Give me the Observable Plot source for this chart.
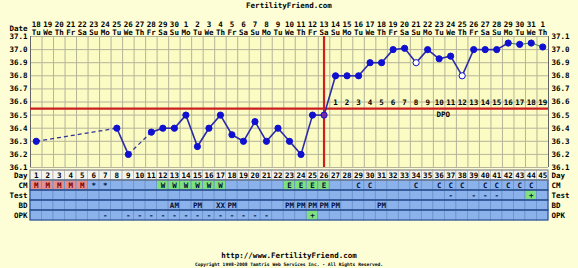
<!DOCTYPE html>
<html><head><meta charset="utf-8">
<script src="https://cdn.jsdelivr.net/npm/d3@7"></script>
<script src="https://cdn.jsdelivr.net/npm/@observablehq/plot@0.6"></script>
<style>
body{margin:0;background:#fdfdd6;}
#wrap{position:relative;width:578px;height:268px;overflow:hidden;font-family:"DejaVu Sans Mono",monospace;font-weight:bold;}
.t{position:absolute;left:0;width:578px;text-align:center;color:#000;white-space:nowrap;}
#title{top:1px;font-size:7.5px;}
#url{top:251px;font-size:7.5px;}
#copy{top:262px;font-size:4.6px;}
#main{position:absolute;top:0;left:0;z-index:2}
#table{position:absolute;top:168px;left:0;z-index:1}
svg{display:block;overflow:visible}
</style></head><body>
<div id="wrap">
  <div id="main"></div>
  <div id="table"></div>
  <div class="t" id="title">FertilityFriend.com</div>
  <div class="t" id="url">http://www.FertilityFriend.com</div>
  <div class="t" id="copy">Copyright 1998-2008 Tamtris Web Services Inc. - All Rights Reserved.</div>
</div>
<script>
// ---------- data ----------
const days = [1,2,3,4,5,6,7,8,9,10,11,12,13,14,15,16,17,18,19,20,21,22,23,24,25,26,27,28,29,30,31,32,33,34,35,36,37,38,39,40,41,42,43,44,45];
const dates = [18,19,20,21,22,23,24,25,26,27,28,29,30,1,2,3,4,5,6,7,8,9,10,11,12,13,14,15,16,17,18,19,20,21,22,23,24,25,26,27,28,29,30,31,1];
const weekdays = ["Tu","We","Th","Fr","Sa","Su","Mo","Tu","We","Th","Fr","Sa","Su","Mo","Tu","We","Th","Fr","Sa","Su","Mo","Tu","We","Th","Fr","Sa","Su","Mo","Tu","We","Th","Fr","Sa","Su","Mo","Tu","We","Th","Fr","Sa","Su","Mo","Tu","We","Th"];
const temps = [36.3,null,null,null,null,null,null,36.4,36.2,null,36.37,36.4,36.4,36.5,36.26,36.4,36.5,36.35,36.3,36.45,36.3,36.4,36.3,36.2,36.5,36.5,36.8,36.8,36.8,36.9,36.9,37.0,37.01,36.9,37.0,36.93,36.95,36.8,37.0,37.0,37.0,37.05,37.04,37.05,37.02];
const openDays = [34,38];
const ovulationDay = 26;
const coverline = 36.55;
const greenFromDay = 42;
const dpoLabels = [1,2,3,4,5,6,7,8,9,10,11,12,13,14,15,16,17,18,19];
const dpoTitleDay = 36;
const yTicks = [36.1,36.2,36.3,36.4,36.5,36.6,36.7,36.8,36.9,37.0,37.1];
const rowNames = ["Day","CM","Test","BD","OPK"];
const cm   = ["M","M","M","M","M","*","*","","","","","W","W","W","W","W","W","","","","","","E","E","E","E","","","C","C","","","","C","","C","C","C","","C","C","C","C","C",""];
const test = ["","","","","","","","","","","","","","","","","","","","","","","","","","","","","","","","","","","","","-","","-","-","-","","","+",""];
const bd   = ["","","","","","","","","","","","","AM","","PM","","XX","PM","","","","","PM","PM","PM","PM","PM","","","","PM","","","","","","","","","","","","","",""];
const opk  = ["","","","","","","-","","-","-","-","-","-","-","-","-","-","-","-","-","-","","","","+","","","","","","","","","","","","","","","","","","","",""];

// ---------- styles ----------
const font = "'DejaVu Sans Mono', monospace";
const xDomain = [0.5, 45.5];
const gridX = d3.range(xDomain[0], xDomain[1] + 0.01, 1);

const pts = days.map((d,i)=>({day:d, t:temps[i]})).filter(p=>p.t!=null);
const segs = [];
for (let i=1;i<pts.length;i++){
  const a=pts[i-1], b=pts[i];
  segs.push({x1:a.day,y1:a.t,x2:b.day,y2:b.t,
    kind: b.day-a.day>1 ? "dash" : (b.day>greenFromDay ? "green" : "solid")});
}
const dotFill = p => openDays.includes(p.day) ? "#ffffff" : (p.day===ovulationDay ? "#7a2aa0" : "#1010d0");
const dpoData = dpoLabels.map((n,i)=>({day: ovulationDay+1+i, n}));
const hdr = days.map((d,i)=>({day:d, date:String(dates[i]), wd:weekdays[i]}));

const main = Plot.plot({
  width:578, height:168, marginLeft:30, marginRight:30, marginTop:36, marginBottom:1,
  x:{domain:xDomain, axis:null},
  y:{domain:[yTicks[0], yTicks[yTicks.length-1]], axis:null},
  style:{background:"transparent", fontFamily:font, fontSize:"7.5px", fontWeight:"bold", color:"#000", overflow:"visible"},
  marks:[
    Plot.frame({fill:"#fbfbc4", stroke:null}),
    Plot.ruleX(gridX, {stroke:"#b4b49a", strokeWidth:1}),
    Plot.ruleY(yTicks, {stroke:"#b4b49a", strokeWidth:1}),
    Plot.ruleX([xDomain[0]], {stroke:"#666", strokeWidth:1}),
    Plot.ruleX([xDomain[1]], {stroke:"#666", strokeWidth:1}),
    Plot.axisY({anchor:"left", ticks:yTicks, tickFormat:d=>d.toFixed(1), tickSize:0, tickPadding:3, fill:"#000"}),
    Plot.axisY({anchor:"right", ticks:yTicks, tickFormat:d=>d.toFixed(1), tickSize:0, tickPadding:3, fill:"#000"}),
    Plot.ruleY([coverline], {stroke:"#cc2020", strokeWidth:2.2}),
    Plot.ruleX([ovulationDay], {stroke:"#cc2020", strokeWidth:2.2}),
    Plot.link(segs.filter(s=>s.kind==="dash"), {x1:"x1",y1:"y1",x2:"x2",y2:"y2", stroke:"#30309a", strokeWidth:1.2, strokeDasharray:"4,3"}),
    Plot.link(segs.filter(s=>s.kind==="solid"), {x1:"x1",y1:"y1",x2:"x2",y2:"y2", stroke:"#2a2aa8", strokeWidth:1.6}),
    Plot.link(segs.filter(s=>s.kind==="green"), {x1:"x1",y1:"y1",x2:"x2",y2:"y2", stroke:"#4a8a5a", strokeWidth:1.1}),
    Plot.dot(pts, {x:"day", y:"t", r:3.1, fill:dotFill, stroke:"#1010d0", strokeWidth:1}),
    Plot.text(dpoData, {x:"day", y:()=>coverline, text:d=>String(d.n), dy:-6, fill:"#000"}),
    Plot.text(["DPO"], {x:()=>dpoTitleDay, y:()=>coverline, dx:4, dy:6, fill:"#000"}),
    Plot.text(hdr, {x:"day", frameAnchor:"top", text:"date", dy:-15, fill:"#000"}),
    Plot.text(hdr, {x:"day", frameAnchor:"top", text:"wd", dy:-7, fill:"#000"}),
    Plot.text(["Date"], {frameAnchor:"top-left", textAnchor:"end", dx:-3, dy:-11, fill:"#000"})
  ]
});
document.getElementById("main").appendChild(main);

// ---------- table ----------
const rowsData = {Day: days.map(String), CM: cm, Test: test, BD: bd, OPK: opk};
const cells = [];
rowNames.forEach(r => days.forEach((d,i)=>{
  const t = rowsData[r][i];
  let fill = r==="Day" ? "#f4f4ee" : "#8cb2ec";
  if (r==="CM" && t==="M") fill = "#e39090";
  if (r==="CM" && (t==="W"||t==="E")) fill = "#7fe07f";
  if ((r==="Test"||r==="OPK") && t==="+") fill = "#7fe07f";
  cells.push({row:r, day:d, text:t, fill, stroke: r==="Day" ? "#b8b8b0" : "#6a92cc"});
}));
const textColor = c => c.row==="CM" && c.text==="M" ? "#7a0000" : (c.row==="Day" ? "#000" : "#001040");

const table = Plot.plot({
  width:578, height:54, marginLeft:30, marginRight:30, marginTop:0, marginBottom:1,
  x:{domain:xDomain, axis:null},
  y:{domain:rowNames, padding:0, axis:null},
  style:{background:"transparent", fontFamily:font, fontSize:"7.5px", fontWeight:"bold", color:"#000"},
  marks:[
    Plot.barX(cells, {x1:d=>d.day-0.5, x2:d=>d.day+0.5, y:"row", fill:"fill", stroke:"stroke", strokeWidth:0.8}),
    Plot.barX(rowNames.slice(1), {x1:()=>xDomain[0], x2:()=>xDomain[1], y:d=>d, fill:"none", stroke:"#24488a", strokeWidth:1}),
    Plot.barX(rowNames.slice(0,1), {x1:()=>xDomain[0], x2:()=>xDomain[1], y:d=>d, fill:"none", stroke:"#888", strokeWidth:1}),
    Plot.text(cells.filter(c=>c.text), {x:"day", y:"row", text:"text", fill:textColor}),
    Plot.text(rowNames, {y:d=>d, frameAnchor:"left", textAnchor:"end", dx:-3, text:d=>d, fill:"#000"}),
    Plot.text(rowNames, {y:d=>d, frameAnchor:"right", textAnchor:"start", dx:3, text:d=>d, fill:"#000"})
  ]
});
document.getElementById("table").appendChild(table);
</script>
</body></html>
